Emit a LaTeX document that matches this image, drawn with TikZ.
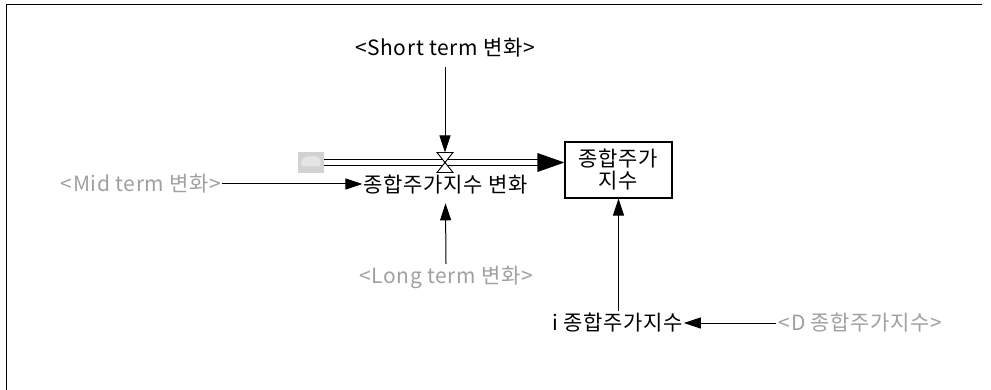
\documentclass[tikz,border=0pt]{standalone}
\usepackage{fontspec}
\setmainfont{Noto Sans CJK KR}[LetterSpace=3]
\usetikzlibrary{arrows.meta,calc}
\definecolor{lbgray}{HTML}{A0A0A0}
\tikzset{
  lbl/.style={inner sep=0pt, font=\fontsize{21}{22}\selectfont, text=black},
  glbl/.style={lbl, text=lbgray},
  link/.style={draw=black, line width=1pt, -{Triangle[length=17pt,width=11pt]}},
  pipe/.style={draw=black, line width=1.1pt, double=white, double distance=5pt},
  frame/.style={draw=black, line width=1.4pt},
  stockbox/.style={draw=black, line width=1.1pt, minimum width=107pt, minimum height=56pt, inner sep=0pt, align=center, font=\fontsize{21}{22}\selectfont}
}
\begin{document}
\begin{tikzpicture}[x=1pt,y=-1pt]
\useasboundingbox (0,0) rectangle (991,390);
\draw[frame] (6.5,391) -- (6.5,4.7) -- (982,4.7);

\node[lbl] (short) at (445,48) {<Short term 변화>};
\node[glbl] (mid) at (141,184) {<Mid term 변화>};
\node[lbl] (rate) at (445.5,185) {종합주가지수 변화};
\node[glbl] (long) at (446,277) {<Long term 변화>};
\node[stockbox] (stock) at (618.5,170) {종합주가\\지수};
\node[lbl] (init) at (617.5,323) {i 종합주가지수};
\node[glbl] (dinit) at (860.5,323) {<D 종합주가지수>};

% cloud
\coordinate (cloud) at (311,162.5);
\fill[gray!35] ($(cloud)+(-13,-10.5)$) rectangle ($(cloud)+(13,10.5)$);
\fill[gray!20] ($(cloud)+(-9,4)$) .. controls ($(cloud)+(-12,-2)$) and ($(cloud)+(-6,-8)$) .. ($(cloud)+(0,-6)$)
  .. controls ($(cloud)+(6,-9)$) and ($(cloud)+(12,-3)$) .. ($(cloud)+(9,4)$) -- cycle;

% pipe
\coordinate (valve) at (445,162.5);
\draw[pipe] ($(cloud)+(13,0)$) -- ($(stock.west)+(-26,-7.5)$);
\fill[black] ($(stock.west)+(-27,-17)$) -- ($(stock.west)+(0,-7.5)$) -- ($(stock.west)+(-27,2)$) -- cycle;

% valve
\filldraw[fill=white, draw=black, line width=0.9pt]
  ($(valve)+(-8,-10)$) -- ($(valve)+(8,-10)$) -- ($(valve)+(-8,10)$) -- ($(valve)+(8,10)$) -- cycle;

% links
\draw[link] ($(short.south)+(0,9.5)$) -- ($(valve)+(0,-10)$);
\draw[link] ($(long.north)+(0,-1.5)$) -- ($(rate.south)+(0,8.5)$);
\draw[link] ($(mid.east)+(1,0)$) -- ($(rate.west)+(-1,-1)$);
\draw[link] ($(init.north)+(1,-2.5)$) -- ($(stock.south)+(0,0)$);
\draw[link] ($(dinit.west)+(-3,0)$) -- ($(init.east)+(1,0)$);
\end{tikzpicture}
\end{document}
